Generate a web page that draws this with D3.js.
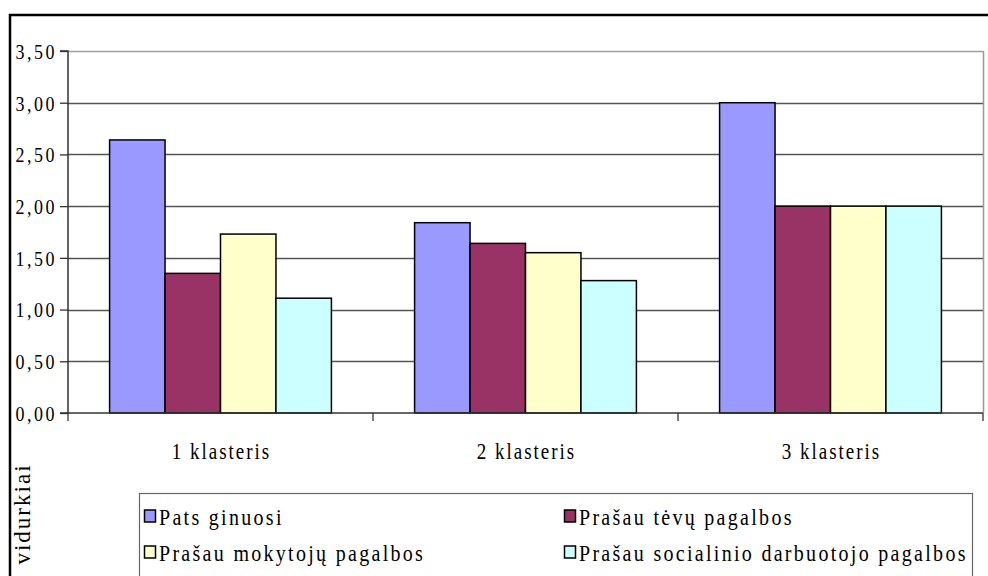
<!DOCTYPE html>
<html><head><meta charset="utf-8">
<script src="https://cdn.jsdelivr.net/npm/d3@7"></script>
<style>
body{margin:0;background:#fff;}
svg text{font-family:"Liberation Serif","Tinos","Times New Roman","DejaVu Serif",serif !important;fill:#000;}
</style></head>
<body><svg id="c" width="988" height="576"></svg>
<script>
const categories = ["1 klasteris","2 klasteris","3 klasteris"];
const seriesNames = ["Pats ginuosi","Prašau tėvų pagalbos","Prašau mokytojų pagalbos","Prašau socialinio darbuotojo pagalbos"];
const patsGinuosi = [2.64, 1.84, 3.00];
const tevuPagalbos = [1.35, 1.64, 2.00];
const mokytojuPagalbos = [1.73, 1.55, 2.00];
const socialinioPagalbos = [1.11, 1.28, 2.00];
const yTicks = [0,0.5,1,1.5,2,2.5,3,3.5];
const colors = ["#9999FF","#993366","#FFFFCC","#CCFFFF"];
const seriesValues = [patsGinuosi, tevuPagalbos, mokytojuPagalbos, socialinioPagalbos];

const svg = d3.select("#c");
const L=68, R=983, T=51, B=413, SY=1.2;

svg.append("path").attr("d","M10,576 V15 H988").attr("fill","none").attr("stroke","#000").attr("stroke-width",2.5);

const x0 = d3.scaleBand().domain(categories).range([L,R]).paddingInner(0).paddingOuter(0);
const x1 = d3.scaleBand().domain(d3.range(4)).range([0,x0.bandwidth()]).paddingOuter(0.75).paddingInner(0);
const y = d3.scaleLinear().domain([0,3.5]).range([B,T]);

svg.append("g").selectAll("line").data(yTicks.slice(1)).join("line")
  .attr("x1",L).attr("x2",R).attr("y1",d=>Math.round(y(d))+0.5).attr("y2",d=>Math.round(y(d))+0.5)
  .attr("stroke",d=>d===3.5?"#a0a0a0":"#555").attr("stroke-width",1.3);
svg.append("line").attr("x1",R+0.5).attr("x2",R+0.5).attr("y1",T).attr("y2",B).attr("stroke","#999").attr("stroke-width",1.5);

const g = svg.append("g");
categories.forEach((c,ci)=>{
  seriesValues.forEach((vals,si)=>{
    g.append("rect")
      .attr("x",x0(c)+x1(si))
      .attr("y",y(vals[ci]))
      .attr("width",x1.bandwidth())
      .attr("height",B-y(vals[ci]))
      .attr("fill",colors[si]).attr("stroke","#000").attr("stroke-width",1.5);
  });
});

const yAxis = d3.axisLeft(y).tickValues(yTicks).tickSize(8).tickPadding(0)
  .tickFormat(d=>d3.format(".2f")(d).replace(".",","));
const ya = svg.append("g").attr("transform",`translate(${L},0)`).call(yAxis);
ya.attr("font-family",null);
ya.select(".domain").attr("stroke","#333").attr("stroke-width",1.5).attr("d",`M-8,${T}H0V${B}H-8`);
ya.selectAll(".tick line").attr("stroke","#333").attr("stroke-width",1.3);
ya.selectAll("text").attr("x",0).attr("dy","0.34em").attr("font-size",18).attr("letter-spacing","2.5px")
  .attr("transform",`translate(-11,0) scale(1,${SY})`);

const xa = svg.append("g").attr("transform",`translate(0,${B})`);
xa.append("line").attr("x1",L).attr("x2",R).attr("stroke","#333").attr("stroke-width",1.5);
const xb = d3.range(categories.length+1).map(i=> i<categories.length ? x0(categories[i]) : R);
xa.selectAll("line.t").data(xb).join("line").attr("class","t")
  .attr("x1",d=>d).attr("x2",d=>d).attr("y1",0).attr("y2",8).attr("stroke","#333").attr("stroke-width",1.3);
xa.selectAll("text").data(categories).join("text")
  .attr("transform",d=>`translate(${x0(d)+x0.bandwidth()/2+1},46) scale(1,${SY})`)
  .attr("text-anchor","middle").attr("font-size",19).attr("letter-spacing","2px").text(d=>d);

svg.append("text").attr("transform","translate(30,514) rotate(-90)").attr("text-anchor","middle")
  .attr("font-size",23).attr("letter-spacing","2px").text("vidurkiai");

const lg = svg.append("g");
lg.append("rect").attr("x",139.5).attr("y",493.5).attr("width",833).attr("height",100)
  .attr("fill","#fff").attr("stroke","#666").attr("stroke-width",1.2);
const pos = [[143,525],[563,525],[143,561],[563,561]];
seriesNames.forEach((n,i)=>{
  lg.append("rect").attr("x",pos[i][0]+1.5).attr("y",pos[i][1]-15).attr("width",11).attr("height",12)
    .attr("fill",colors[i]).attr("stroke","#000").attr("stroke-width",1.5);
  lg.append("text").attr("transform",`translate(${pos[i][0]+16},${pos[i][1]}) scale(1,${SY})`)
    .attr("font-size",20).attr("letter-spacing","2.3px").text(n);
});
</script></body></html>
